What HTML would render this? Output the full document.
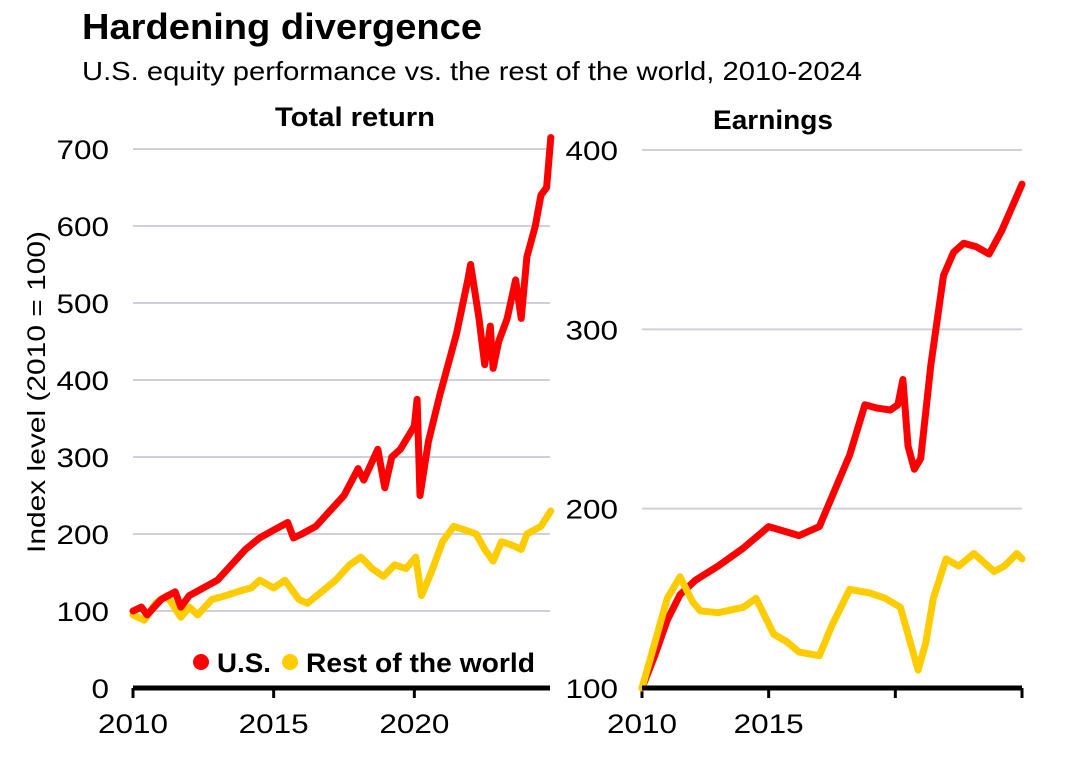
<!DOCTYPE html>
<html><head><meta charset="utf-8"><style>
body{margin:0;background:#fff;width:1080px;height:755px;overflow:hidden;font-family:"Liberation Sans",sans-serif}
svg text{font-family:"Liberation Sans","Noto Sans CJK SC",sans-serif}
</style></head><body>
<svg id="c" width="1080" height="755">
<text x="82" y="39" font-size="36" font-weight="bold" fill="#000" textLength="400" lengthAdjust="spacingAndGlyphs">Hardening divergence</text>
<text x="82" y="80" font-size="26" fill="#000" textLength="780" lengthAdjust="spacingAndGlyphs">U.S. equity performance vs. the rest of the world, 2010-2024</text>
<text x="355" y="126" font-size="27" font-weight="bold" text-anchor="middle" textLength="160" lengthAdjust="spacingAndGlyphs">Total return</text>
<text x="773" y="129" font-size="27" font-weight="bold" text-anchor="middle" textLength="120" lengthAdjust="spacingAndGlyphs">Earnings</text>
<text transform="translate(45,392) rotate(-90)" font-size="25" text-anchor="middle" textLength="322" lengthAdjust="spacingAndGlyphs">Index level (2010 = 100)</text>
<g id="L"></g><g id="R"></g>
<g>
<circle cx="201" cy="662" r="8" fill="#f00"/>
<text x="217" y="672" font-size="27" font-weight="bold" textLength="54" lengthAdjust="spacingAndGlyphs">U.S.</text>
<circle cx="290" cy="662" r="8" fill="#ffcc00"/>
<text x="306" y="672" font-size="27" font-weight="bold" textLength="229" lengthAdjust="spacingAndGlyphs">Rest of the world</text>
</g>
</svg>
<script>
const leftTicks=[0,100,200,300,400,500,600,700];
const rightTicks=[100,200,300,400];
const xTickYears=[2010,2015,2020,2025];
const usTRx=[2010,2010.3,2010.5,2011,2011.5,2011.7,2012,2012.5,2013,2013.5,2014,2014.5,2015,2015.5,2015.7,2016,2016.5,2017,2017.5,2018,2018.2,2018.7,2018.95,2019.2,2019.5,2020,2020.1,2020.2,2020.5,2020.9,2021.2,2021.5,2021.9,2022,2022.3,2022.5,2022.7,2022.8,2023,2023.3,2023.6,2023.8,2024,2024.3,2024.5,2024.7,2024.85];
const usTR=[100,105,95,115,125,105,120,130,140,160,180,195,205,215,195,200,210,230,250,285,270,310,260,300,310,340,375,250,320,380,420,460,530,550,480,420,470,415,450,480,530,480,560,600,640,650,715];
const rowTRx=[2010,2010.4,2010.8,2011.2,2011.7,2012,2012.3,2012.8,2013.3,2013.7,2014.2,2014.5,2015,2015.4,2015.9,2016.2,2016.7,2017.2,2017.7,2018.1,2018.5,2018.9,2019.3,2019.7,2020.05,2020.25,2020.6,2021,2021.4,2021.8,2022.2,2022.5,2022.8,2023.1,2023.5,2023.8,2024,2024.5,2024.85];
const rowTR=[95,88,110,120,92,105,95,115,120,125,130,140,130,140,115,110,125,140,160,170,155,145,160,155,170,120,150,190,210,205,200,180,165,190,185,180,200,210,230];
const usEx=[2010,2010.5,2011,2011.5,2012.1,2013,2014,2015,2016.2,2017,2017.6,2018.2,2018.8,2019.3,2019.8,2020.1,2020.3,2020.5,2020.75,2021,2021.4,2021.9,2022.3,2022.7,2023.2,2023.7,2024.2,2024.6,2025];
const usE=[100,118,138,152,160,168,178,190,185,190,210,230,258,256,255,258,272,235,222,228,280,330,343,348,346,342,355,368,381];
const rowEx=[2010,2010.5,2011,2011.5,2012,2012.3,2013,2014,2014.5,2015.2,2015.7,2016.2,2017,2017.5,2018.2,2019,2019.6,2020.2,2020.6,2020.9,2021.2,2021.5,2022,2022.5,2023.1,2023.5,2023.9,2024.3,2024.8,2025];
const rowE=[100,125,150,162,148,143,142,145,150,130,126,120,118,135,155,153,150,145,125,110,125,150,172,168,175,170,165,168,175,172];
const NS='http://www.w3.org/2000/svg';
function mk(t,a,p){const e=document.createElementNS(NS,t);for(const k in a)e.setAttribute(k,a[k]);p.appendChild(e);return e;}
function panel(g,x0,x1,y0,y1,vmin,vmax,ticks,xl,ends,series,side){
 const X=y=>x0+(y-2010)/(2025-2010)*(x1-x0);
 const Y=v=>y0-(v-vmin)/(vmax-vmin)*(y0-y1);
 ticks.forEach(t=>{
  if(t!==vmin){const l=mk('line',{x1:x0,x2:ends,y1:Y(t),y2:Y(t),stroke:'#d0d0dc','stroke-width':2},g);
  
  }
  const tx=mk('text',{x:x0-24,y:Y(t)+10,'font-size':27,'text-anchor':'end',textLength:String(t).length*17.5,lengthAdjust:'spacingAndGlyphs'},g);tx.textContent=t;
  
  
 });
 xl.forEach(yr=>{
  const tk=mk('line',{x1:X(yr),x2:X(yr),y1:y0,y2:y0+10,stroke:'#000','stroke-width':3},g);
  
  
  if(yr<2025 && !(side==='right'&&yr===2020)){const tx=mk('text',{x:X(yr),y:y0+45,'font-size':27,'text-anchor':'middle',textLength:70,lengthAdjust:'spacingAndGlyphs'},g);tx.textContent=yr;
  
  }
 });
 series.forEach(s=>{
  const d=s.x.map((v,i)=>(i?'L':'M')+X(v).toFixed(1)+','+Y(s.y[i]).toFixed(1)).join('');
  const p=mk('path',{d:d,fill:'none',stroke:s.c,'stroke-width':7,'stroke-linejoin':'round','stroke-linecap':'round'},g);
  
  
 });
 const ax=mk('line',{x1:x0,x2:ends,y1:y0,y2:y0,stroke:'#000','stroke-width':5},g);
 
 
}
panel(document.getElementById('L'),133,555,688,149,0,700,leftTicks,[2010,2015,2020],550,
 [{x:rowTRx,y:rowTR,c:'#ffcc00',n:'row-total-return-line'},{x:usTRx,y:usTR,c:'#f00',n:'us-total-return-line'}],'left');
panel(document.getElementById('R'),642,1022,688,150,100,400,rightTicks,xTickYears,1022,
 [{x:usEx,y:usE,c:'#f00',n:'us-earnings-line'},{x:rowEx,y:rowE,c:'#ffcc00',n:'row-earnings-line'}],'right');
</script>
</body></html>
